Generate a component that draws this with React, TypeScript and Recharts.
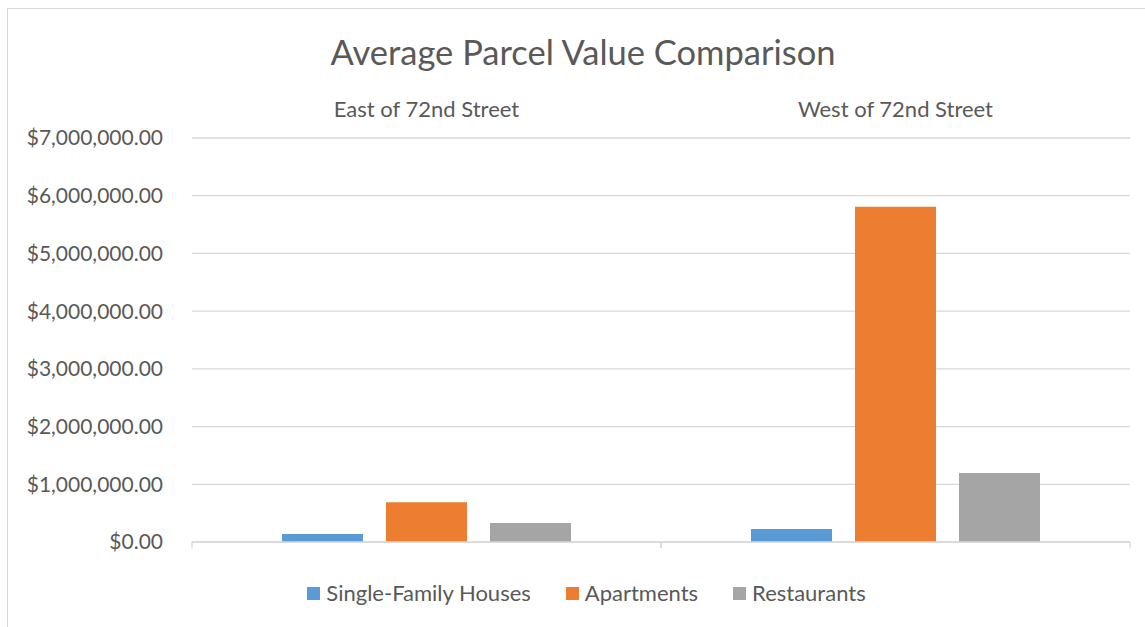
import React from 'react'
import { BarChart, Bar, XAxis, YAxis, CartesianGrid, Legend } from 'recharts'

const regions = ['East of 72nd Street', 'West of 72nd Street']
const singleFamily = [140000, 225000]
const apartments = [690000, 5810000]
const restaurants = [330000, 1195000]
const valueTicks = [0, 1000000, 2000000, 3000000, 4000000, 5000000, 6000000, 7000000]

const data = regions.map((region, i) => ({
  region,
  single: singleFamily[i],
  apartments: apartments[i],
  restaurants: restaurants[i],
}))

const FONT = 'Lato, "Open Sans", sans-serif'
const TEXT = '#595959'
const GRID = '#d9d9d9'

const money = (v: number) =>
  '$' + v.toLocaleString('en-US', { minimumFractionDigits: 2, maximumFractionDigits: 2 })

function LegendRow({ payload }: any) {
  return (
    <div
      style={{
        display: 'flex',
        justifyContent: 'center',
        paddingLeft: 43,
        height: 22,
        lineHeight: '22px',
        fontFamily: FONT,
        fontSize: 22,
        color: TEXT,
      }}
    >
      {(payload || []).map((item: any, i: number) => (
        <div key={item.value} style={{ display: 'flex', alignItems: 'center', marginLeft: i === 0 ? 0 : 35 }}>
          <span style={{ width: 13, height: 13, background: item.color, marginRight: 6, display: 'inline-block' }} />
          <span>{item.value}</span>
        </div>
      ))}
    </div>
  )
}

// tick marks at the category boundaries, like Excel's "between tick marks"
function BoundaryTick(props: any) {
  const { x, y, width, visibleTicksCount } = props
  const half = width / (visibleTicksCount || 1) / 2
  return (
    <g>
      <line x1={x - half} x2={x - half} y1={y} y2={y + 6} stroke={GRID} strokeWidth={1.3} />
      <line x1={x + half} x2={x + half} y1={y} y2={y + 6} stroke={GRID} strokeWidth={1.3} />
    </g>
  )
}

export default function App() {
  return (
    <div style={{ position: 'absolute', left: 0, top: 0, width: 1145, height: 627, background: '#fff', overflow: 'hidden' }}>
      <div
        style={{
          position: 'absolute',
          left: 7,
          top: 8,
          width: 1160,
          height: 640,
          border: `1px solid ${GRID}`,
          boxSizing: 'border-box',
        }}
      />
      <div
        style={{
          position: 'absolute',
          left: 583,
          top: 30,
          transform: 'translateX(-50%)',
          whiteSpace: 'nowrap',
          fontFamily: FONT,
          fontSize: 34.5,
          lineHeight: '44px',
          color: TEXT,
        }}
      >
        Average Parcel Value Comparison
      </div>
      <div style={{ position: 'absolute', left: 0, top: 0 }}>
        <BarChart
          width={1145}
          height={627}
          data={data}
          margin={{ top: 0, right: 15, bottom: 23, left: 0 }}
          barSize={81}
          barGap={23}
        >
          <CartesianGrid xAxisId="cat" stroke={GRID} strokeWidth={1.3} vertical={false} />
          <XAxis
            xAxisId="cat"
            dataKey="region"
            orientation="top"
            height={138}
            axisLine={false}
            tickLine={false}
            tickSize={0}
            tickMargin={21}
            tick={{ fill: TEXT, fontSize: 22, fontFamily: FONT }}
          />
          <XAxis
            xAxisId="b"
            dataKey="region"
            height={40}
            interval={0}
            tickLine={false}
            tickSize={0}
            tickMargin={0}
            tick={<BoundaryTick />}
            axisLine={{ stroke: GRID, strokeWidth: 1.3 }}
          />
          <YAxis
            width={192}
            domain={[0, 7000000]}
            ticks={valueTicks}
            interval={0}
            axisLine={false}
            tickLine={false}
            tickSize={0}
            tickMargin={29}
            tickFormatter={money}
            tick={{ fill: TEXT, fontSize: 21, fontFamily: FONT }}
          />
          <Legend verticalAlign="bottom" itemSorter={null as any} content={<LegendRow />} />
          <Bar xAxisId="cat" dataKey="single" name="Single-Family Houses" fill="#5b9bd5" isAnimationActive={false} />
          <Bar xAxisId="cat" dataKey="apartments" name="Apartments" fill="#ed7d31" isAnimationActive={false} />
          <Bar xAxisId="cat" dataKey="restaurants" name="Restaurants" fill="#a5a5a5" isAnimationActive={false} />
        </BarChart>
      </div>
    </div>
  )
}
